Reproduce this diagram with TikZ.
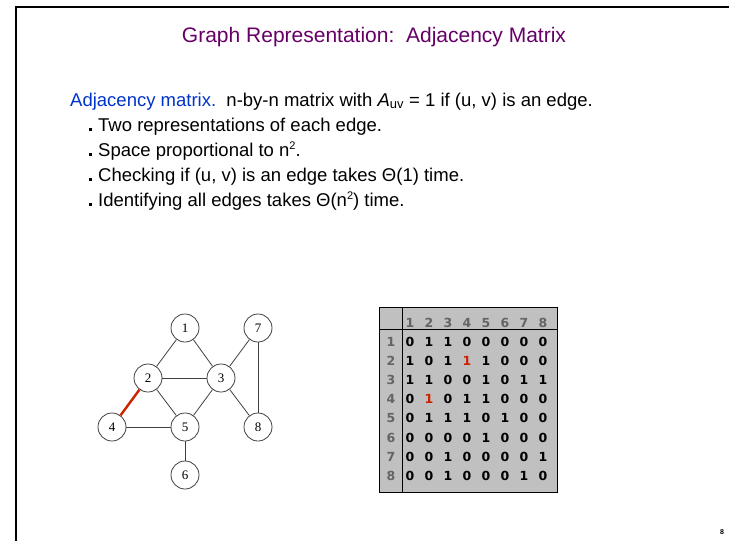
\documentclass[tikz,border=0pt]{standalone}
\usepackage{fontspec}
\setmainfont{Liberation Sans}
\newfontfamily\matfont{DejaVu Sans}
\newfontfamily\graphfont{Liberation Serif}
\definecolor{titlepurple}{RGB}{102,0,102}
\definecolor{headblue}{RGB}{0,51,204}
\definecolor{tablegray}{RGB}{192,192,192}
\definecolor{labelgray}{RGB}{100,100,100}
\definecolor{edgered}{RGB}{204,34,0}
\definecolor{edgegray}{RGB}{64,64,64}
\newcommand{\sqsup}[1]{\raisebox{0.36em}{\fontsize{11}{12}\selectfont #1}}
\tikzset{
  bodytext/.style={anchor=base west, inner sep=0pt, font=\fontsize{18.5}{21}\selectfont},
  bulletbox/.style={fill=black, inner sep=0pt, minimum size=3pt},
  vertex/.style={circle, draw=edgegray, line width=0.8pt, minimum size=28pt, inner sep=0pt, font=\graphfont\fontsize{13}{15}\selectfont},
  edge/.style={draw=edgegray, line width=0.8pt},
  redge/.style={draw=edgered, line width=2.4pt},
  cell/.style={inner sep=0pt, font=\matfont\bfseries\fontsize{12.5}{14}\selectfont},
  headcell/.style={cell, text=labelgray},
}
\begin{document}
\begin{tikzpicture}[x=1pt,y=-1pt]
\useasboundingbox (0,0) rectangle (729,541);
% slide frame
\draw[line width=2.2pt] (16,541) -- (16,7) -- (729,7);
% title
\node[text=titlepurple, font=\fontsize{21}{24}\selectfont] (title) at (374,37) {Graph Representation:\ \ Adjacency Matrix};
% body text
\node[bodytext] (l0) at (70,106) {\textcolor{headblue}{Adjacency matrix.}\ \ n-by-n matrix with \textit{A}\textsubscript{uv} = 1 if (u, v) is an edge.};
\node[bulletbox] (b1) at (90,129.5) {};
\node[bodytext] (l1) at (98,131) {Two representations of each edge.};
\node[bulletbox] (b2) at (90,154.5) {};
\node[bodytext] (l2) at (98,156) {Space proportional to n\sqsup{2}.};
\node[bulletbox] (b3) at (90,179.5) {};
\node[bodytext] (l3) at (98,181) {Checking if (u, v) is an edge takes Θ(1) time.};
\node[bulletbox] (b4) at (90,204.5) {};
\node[bodytext] (l4) at (98,206) {Identifying all edges takes Θ(n\sqsup{2}) time.};
% graph
\node[vertex] (v1) at (185,328) {1};
\node[vertex] (v7) at (258,328) {7};
\node[vertex] (v2) at (148,378) {2};
\node[vertex] (v3) at (221,378) {3};
\node[vertex] (v4) at (112,427) {4};
\node[vertex] (v5) at (185,427) {5};
\node[vertex] (v8) at (258,427) {8};
\node[vertex] (v6) at (185,475) {6};
\draw[edge] (v1) -- (v2);
\draw[edge] (v1) -- (v3);
\draw[edge] (v2) -- (v3);
\draw[edge] (v2) -- (v5);
\draw[edge] (v3) -- (v5);
\draw[edge] (v3) -- (v7);
\draw[edge] (v3) -- (v8);
\draw[edge] (v7) -- (v8);
\draw[edge] (v4) -- (v5);
\draw[edge] (v5) -- (v6);
\draw[redge] (v2) -- (v4);
% matrix table
\draw[fill=tablegray, line width=0.9pt] (379,307) rectangle (557,492);
\draw[line width=0.8pt] (379,329) -- (557,329);
\draw[line width=0.8pt] (402,307) -- (402,492);
\foreach \c in {1,...,8} {
  \node[headcell] (h-\c) at ({410+(\c-1)*19}, 323) {\c};
  \node[headcell] (r-\c) at (391, {342+(\c-1)*19.1}) {\c};
}
\foreach \row [count=\r] in {
  {0,1,1,0,0,0,0,0},
  {1,0,1,{\color{edgered}1},1,0,0,0},
  {1,1,0,0,1,0,1,1},
  {0,{\color{edgered}1},0,1,1,0,0,0},
  {0,1,1,1,0,1,0,0},
  {0,0,0,0,1,0,0,0},
  {0,0,1,0,0,0,0,1},
  {0,0,1,0,0,0,1,0}} {
  \foreach \v [count=\c] in \row {
    \node[cell] (m-\r-\c) at ({410+(\c-1)*19}, {342+(\r-1)*19.1}) {\v};
  }
}
% page number
\node[font=\bfseries\fontsize{7}{8}\selectfont] (pageno) at (722,532) {8};
\end{tikzpicture}
\end{document}
